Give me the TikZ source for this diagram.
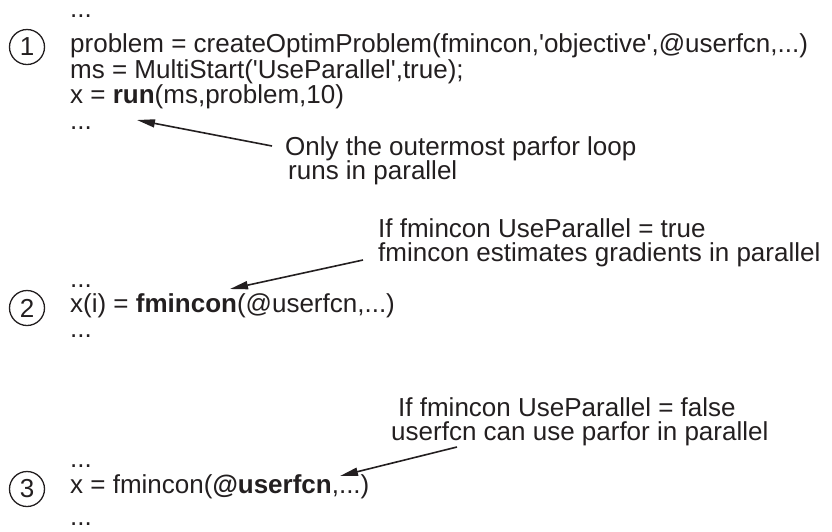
\documentclass[tikz,border=0pt]{standalone}
\usepackage{fontspec}
\setmainfont[Ligatures=TeXOff]{Liberation Sans}
\usetikzlibrary{arrows.meta}
\definecolor{ink}{HTML}{231F20}
\begin{document}
\begin{tikzpicture}[x=1pt,y=-1pt,
  code/.style={anchor=base west,inner sep=0pt,font=\fontsize{26}{28}\selectfont,text=ink},
  note/.style={anchor=base west,inner sep=0pt,font=\fontsize{26}{28}\selectfont,text=ink},
  num/.style={circle,draw=ink,line width=1.3pt,minimum size=35pt,inner sep=0pt,font=\fontsize{26}{28}\selectfont,text=ink},
  pointer/.style={draw=ink,line width=1.6pt,-{Triangle[length=18pt,width=8pt]}}]
\useasboundingbox (0,0) rectangle (832,531);
% block 1
\node[code] (d1a) at (70,17) {...};
\node[num] (c1) at (27,47) {1};
\node[code] (l1) at (70,52) {problem = createOptimProblem(fmincon,'objective',@userfcn,...)};
\node[code] (l2) at (70,78) {ms = MultiStart('UseParallel',true);};
\node[code] (l3) at (70,103) {x = \textbf{run}(ms,problem,10)};
\node[code] (d1b) at (70,129) {...};
\node[note] (n1a) at (285,155) {Only the outermost parfor loop};
\node[note] (n1b) at (288,179) {runs in parallel};
% block 2
\node[note] (n2a) at (378,237) {If fmincon UseParallel = true};
\node[note] (n2b) at (378,261) {fmincon estimates gradients in parallel};
\node[code] (d2a) at (70,287) {...};
\node[num] (c2) at (27,308) {2};
\node[code] (l4) at (70,312) {x(i) = \textbf{fmincon}(@userfcn,...)};
\node[code] (d2b) at (70,337) {...};
% block 3
\node[note] (n3a) at (398,416) {If fmincon UseParallel = false};
\node[note] (n3b) at (391,440) {userfcn can use parfor in parallel};
\node[code] (d3a) at (70,467) {...};
\node[num] (c3) at (27,489) {3};
\node[code] (l5) at (70,493) {x = fmincon(\textbf{@userfcn},...)};
\node[code] (d3b) at (70,525) {...};
% arrows
\coordinate (a1s) at (272,146);
\coordinate (a1e) at (137,120);
\coordinate (a2s) at (363,260);
\coordinate (a2e) at (230,289);
\coordinate (a3s) at (457,447);
\coordinate (a3e) at (340,476);
\draw[pointer] (a1s) -- (a1e);
\draw[pointer] (a2s) -- (a2e);
\draw[pointer] (a3s) -- (a3e);
\end{tikzpicture}
\end{document}
